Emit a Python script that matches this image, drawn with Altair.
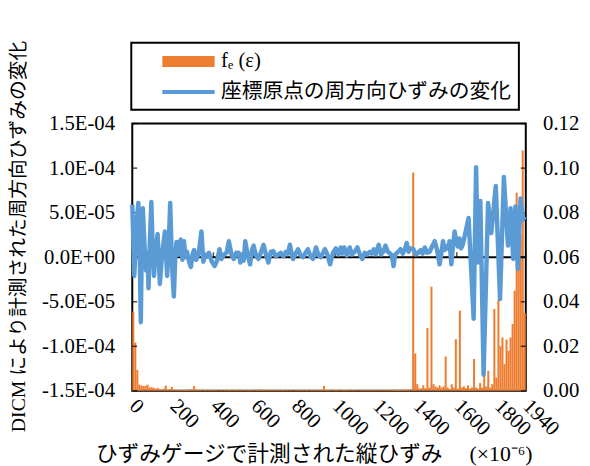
import altair as alt
import pandas as pd

ORANGE = "#ED7D31"
BLUE = "#5B9BD5"
FONT = "Liberation Serif, Times New Roman, Noto Sans CJK JP"

series_names = ["fₑ (ε)", "座標原点の周方向ひずみの変化"]
x_title = "ひずみゲージで計測された縦ひずみ　 (×10⁻⁶)"
left_title = "DICM により計測された周方向ひずみの変化"

x_tick_values = [0, 200, 400, 600, 800, 1000, 1200, 1400, 1600, 1800, 1940]
left_tick_values = [-1.5e-4, -1.0e-4, -5.0e-5, 0.0, 5.0e-5, 1.0e-4, 1.5e-4]
left_tick_labels = ["-1.5E-04", "-1.0E-04", "-5.0E-05", "0.0E+00", "5.0E-05", "1.0E-04", "1.5E-04"]
right_tick_values = [0.0, 0.02, 0.04, 0.06, 0.08, 0.10, 0.12]

bin_width = 10
bin_start = list(range(0, 1940, bin_width))
fe_values = [
    .0356, .0217, .0094, .0028, .0024, .0022, .0022, .0028, .0016, .0016,
    .0014, .0010, .0013, .0008, .0006, .0010, .0024, .0006, .0008, .0018,
    .0006, .0005, .0004, .0005, .0004, .0005, .0004, .0006, .0005, .0008,
    .0021, .0006, .0004, .0005, .0003, .0005, .0004, .0006, .0004, .0005,
    .0004, .0005, .0003, .0004, .0005, .0004, .0006, .0004, .0005, .0003,
    .0005, .0004, .0005, .0006, .0004, .0003, .0005, .0004, .0005, .0004,
    .0003, .0005, .0004, .0006, .0004, .0005, .0003, .0004, .0005, .0004,
    .0005, .0004, .0003, .0005, .0004, .0006, .0004, .0005, .0004, .0003,
    .0005, .0004, .0005, .0004, .0006, .0004, .0005, .0003, .0004, .0005,
    .0004, .0005, .0004, .0006, .0022, .0005, .0004, .0005, .0003, .0004,
    .0005, .0004, .0003, .0005, .0004, .0005, .0004, .0006, .0004, .0005,
    .0004, .0003, .0005, .0004, .0005, .0004, .0006, .0004, .0005, .0004,
    .0005, .0004, .0003, .0005, .0004, .0005, .0004, .0005, .0006, .0004,
    .0005, .0004, .0005, .0004, .0006, .0004, .0005, .0008, .0980, .0168,
    .0030, .0010, .0012, .0025, .0012, .0282, .0015, .0468, .0030, .0020,
    .0015, .0025, .0015, .0020, .0154, .0015, .0008, .0030, .0015, .0232,
    .0010, .0360, .0015, .0020, .0012, .0025, .0010, .0015, .0143, .0015,
    .0010, .0035, .0015, .0087, .0020, .0090, .0015, .0030, .0368, .0060,
    .0410, .0200, .0240, .0120, .0230, .0180, .0240, .0300, .0450, .0890,
    .0600, .0700, .1080, .0350,
]

strain_x = [
    0, 5, 10, 20, 30, 37, 42, 47, 52, 60, 68, 75, 80, 87, 94, 100, 107, 116, 125, 136,
    148, 161, 172, 180, 187, 196, 205, 212, 218, 226, 239, 247, 255, 262, 270, 280, 289, 298, 305, 315,
    328, 341, 350, 362, 370, 378, 392, 406, 418, 430, 440, 452, 465, 476, 490, 500, 512, 525, 533, 541,
    549, 557, 569, 581, 590, 598, 610, 622, 635, 647, 659, 671, 683, 695, 707, 720, 732, 745, 757, 768,
    777, 785, 793, 805, 817, 830, 842, 854, 866, 878, 891, 900, 906, 918, 930, 940, 950, 962, 975, 990,
    1004, 1016, 1028, 1036, 1045, 1058, 1072, 1083, 1096, 1110, 1122, 1134, 1146, 1158, 1170, 1180, 1191, 1200, 1215, 1226,
    1237, 1248, 1260, 1272, 1280, 1288, 1296, 1310, 1322, 1334, 1345, 1353, 1362, 1372, 1386, 1398, 1410, 1422, 1432, 1442,
    1454, 1466, 1478, 1491, 1503, 1515, 1524, 1532, 1540, 1548, 1556, 1564, 1573, 1580, 1589, 1597, 1605, 1613, 1621, 1629,
    1640, 1658, 1670, 1683, 1695, 1705, 1716, 1732, 1754, 1770, 1792, 1813, 1832, 1852, 1865, 1878, 1889, 1901, 1914, 1927,
    1933,
]
strain_y = [
    5.9e-5, 2.0e-5, -2.1e-5, 3.5e-5, 6.1e-5, 0.0, -7.3e-5, 1.0e-5, 5.5e-5, 1.5e-5, -1.5e-5, 0.5e-5, -3.5e-5, 2.0e-5, 6.2e-5, 1.5e-5, -2.1e-5, 1.0e-5, 2.6e-5, -3.0e-5,
    0.5e-5, 2.9e-5, -2.1e-5, 1.5e-5, 6.1e-5, -1.0e-5, -4.4e-5, 0.0, 1.7e-5, 0.3e-5, 2.0e-5, -0.3e-5, 1.8e-5, 0.0, 0.6e-5, -0.5e-5, -1.1e-5, 0.4e-5, 0.8e-5, -0.3e-5,
    0.5e-5, 2.9e-5, -0.5e-5, 0.3e-5, 0.1e-5, 0.5e-5, -0.5e-5, -1.0e-5, -0.4e-5, 0.9e-5, -0.2e-5, 0.3e-5, 0.5e-5, 1.8e-5, 0.2e-5, -0.2e-5, 0.5e-5, 0.5e-5, -0.6e-5, 0.3e-5,
    -0.4e-5, 1.8e-5, 0.2e-5, -0.8e-5, 0.8e-5, 1.3e-5, 0.2e-5, -0.2e-5, 0.6e-5, 1.4e-5, 0.3e-5, -0.6e-5, 0.6e-5, 0.7e-5, 0.1e-5, 0.3e-5, 0.5e-5, 0.1e-5, 0.6e-5, 0.4e-5,
    1.4e-5, 0.5e-5, -0.2e-5, 0.4e-5, 0.9e-5, 0.2e-5, 0.0, 0.5e-5, 0.9e-5, 0.1e-5, -0.2e-5, 0.6e-5, 1.1e-5, 0.2e-5, 0.0, 0.5e-5, 0.9e-5, 0.3e-5, -0.8e-5, 0.5e-5,
    1.0e-5, 0.3e-5, 1.1e-5, 0.4e-5, 1.1e-5, 0.2e-5, 1.1e-5, 0.3e-5, 0.6e-5, 1.1e-5, 0.3e-5, -0.2e-5, 0.5e-5, 0.3e-5, 0.6e-5, 0.4e-5, 0.9e-5, 0.3e-5, 1.4e-5, 0.3e-5,
    0.6e-5, 1.3e-5, 0.6e-5, 0.4e-5, 0.2e-5, -1.0e-5, 0.3e-5, 0.6e-5, 0.9e-5, 0.4e-5, 1.0e-5, 1.6e-5, 0.6e-5, 1.0e-5, 0.9e-5, 0.3e-5, 0.5e-5, 0.8e-5, 0.4e-5, 1.1e-5,
    0.5e-5, 0.6e-5, 1.2e-5, 1.8e-5, 0.8e-5, -0.8e-5, 0.5e-5, 1.8e-5, 0.8e-5, 1.2e-5, 1.0e-5, 1.8e-5, -0.8e-5, 1.0e-5, 2.9e-5, 1.8e-5, 1.2e-5, 2.1e-5, 1.0e-5, 1.4e-5,
    2.5e-5, 4.4e-5, -1.0e-5, -6.9e-5, 10.1e-5, -0.6e-5, 6.3e-5, -13.2e-5, 6.1e-5, 2.7e-5, 8.0e-5, -4.7e-5, 9.0e-5, 1.3e-5, 5.5e-5, -0.2e-5, 5.7e-5, -1.3e-5, 6.6e-5, 4.2e-5,
    4.6e-5,
]

W, H = 399, 271

bars_df = pd.DataFrame({"start": bin_start, "fe": fe_values})
bars_df["end"] = bars_df["start"] + bin_width
bars_df["base"] = 0.0
line_df = pd.DataFrame({"x": strain_x, "y": strain_y})

xs = alt.Scale(domain=[0, 1940], nice=False, zero=False)
yl = alt.Scale(domain=[-1.5e-4, 1.5e-4], nice=False, zero=False)
yr = alt.Scale(domain=[0, 0.12], nice=False, zero=False)

label_expr = " : ".join(
    f"abs(datum.value - ({v!r})) < 1e-9 ? '{lab}'" for v, lab in zip(left_tick_values, left_tick_labels)
) + " : ''"

x_axis = alt.Axis(
    values=x_tick_values, format="d", labelAngle=45, labelAlign="left", labelBaseline="middle",
    labelPadding=12, labelOverlap=False, labelFlush=False, ticks=False, domain=False, grid=False,
    labelFont=FONT, labelFontSize=21, labelColor="black",
    title=x_title, titleX=184, titleY=64, titleAlign="center", titleBaseline="middle",
    titleFont=FONT, titleFontSize=22, titleColor="black", titleFontWeight="normal",
)
right_axis = alt.Axis(
    orient="right", values=right_tick_values, format=".2f", ticks=False, domain=False, grid=False,
    labelFont=FONT, labelFontSize=21, labelColor="black", labelPadding=17, title=None,
)
left_axis = alt.Axis(
    orient="left", values=left_tick_values, labelExpr=label_expr, ticks=False, domain=False, grid=False,
    labelFont=FONT, labelFontSize=21, labelColor="black", labelPadding=18,
    title=left_title, titleX=-115, titleY=114, titleAngle=-90,
    titleAlign="center", titleBaseline="middle", titleFont=FONT, titleFontSize=20,
    titleColor="black", titleFontWeight="normal",
)

bars = alt.Chart(bars_df).mark_rect(color=ORANGE).encode(
    x=alt.X("start:Q", scale=xs, axis=x_axis),
    x2="end:Q",
    y=alt.Y("fe:Q", scale=yr, axis=right_axis),
    y2="base:Q",
)
right_ticks = alt.Chart(pd.DataFrame({"fe": right_tick_values})).mark_tick(
    orient="horizontal", color="black", size=5, thickness=1.5
).encode(y=alt.Y("fe:Q", scale=yr, axis=right_axis), x=alt.value(W - 2.5))

right_group = alt.layer(bars, right_ticks)

zero_line = alt.Chart(pd.DataFrame({"y": [0.0]})).mark_rule(color="black", strokeWidth=2).encode(
    y=alt.Y("y:Q", scale=yl, axis=left_axis)
)
x_ticks = alt.Chart(pd.DataFrame({"x": x_tick_values, "y": [0.0] * len(x_tick_values)})).mark_tick(
    orient="vertical", color="black", size=5, thickness=1.5, yOffset=-2.5
).encode(x=alt.X("x:Q", scale=xs, axis=x_axis), y=alt.Y("y:Q", scale=yl, axis=left_axis))
left_ticks = alt.Chart(pd.DataFrame({"y": left_tick_values})).mark_tick(
    orient="horizontal", color="black", size=5, thickness=1.5
).encode(y=alt.Y("y:Q", scale=yl, axis=left_axis), x=alt.value(2.5))
line = alt.Chart(line_df).mark_line(color=BLUE, strokeWidth=4.5, strokeJoin="round").encode(
    x=alt.X("x:Q", scale=xs, axis=x_axis),
    y=alt.Y("y:Q", scale=yl, axis=left_axis),
)

path_orange = "M-2.5,-0.52H2.5V0.52H-2.5Z"
path_blue = "M-2.5,-0.19H2.5V0.19H-2.5Z"
leg = alt.Legend(
    orient="none", legendX=-1, legendY=-82, title=None, direction="vertical",
    labelFont=FONT, labelFontSize=21, labelLimit=600, labelColor="black",
    symbolSize=449, symbolOffset=39, labelOffset=22, rowPadding=10, padding=8,
    strokeColor="black", symbolStrokeWidth=0, symbolOpacity=1,
)
legend_layer = alt.Chart(pd.DataFrame({"name": series_names})).mark_point(filled=True, opacity=0).encode(
    color=alt.Color("name:N", scale=alt.Scale(domain=series_names, range=[ORANGE, BLUE]), legend=leg),
    shape=alt.Shape("name:N", scale=alt.Scale(domain=series_names, range=[path_orange, path_blue]), legend=leg),
)

left_group = alt.layer(zero_line, x_ticks, left_ticks, line, legend_layer)

chart = alt.layer(right_group, left_group).resolve_scale(y="independent").properties(
    width=W, height=H,
    autosize=alt.AutoSizeParams(type="none"),
    padding={"left": 126, "top": 114, "right": 57, "bottom": 73},
).configure_view(
    stroke="black", strokeWidth=2
).configure_legend(
    strokeWidth=2
)

chart.save("out.html", embed_options={"renderer": "svg", "actions": False})
